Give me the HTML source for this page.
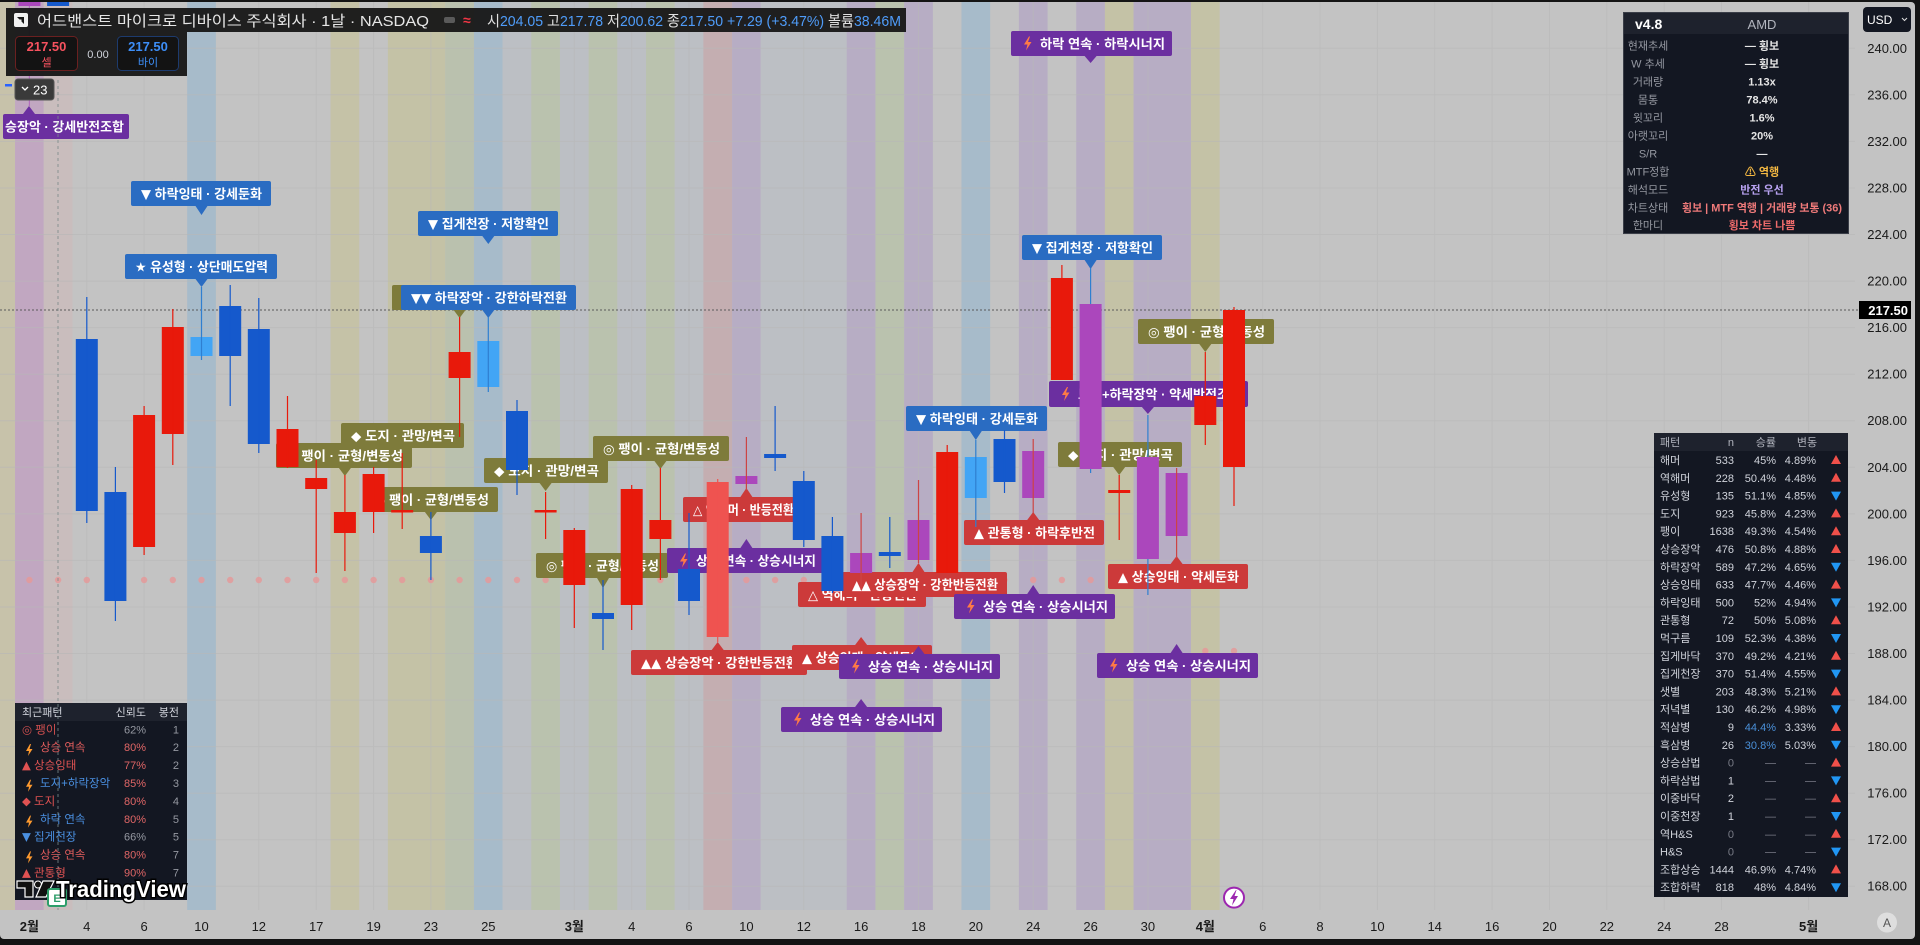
<!DOCTYPE html>
<html><head><meta charset="utf-8"><style>
html,body{margin:0;padding:0;background:#141414;overflow:hidden}
svg{display:block}
.g{font-family:'DejaVu Sans',sans-serif}
</style></head><body>
<svg width="1920" height="945" viewBox="0 0 1920 945" xmlns="http://www.w3.org/2000/svg" style="font-family:'Liberation Sans','Noto Sans CJK KR','DejaVu Sans',sans-serif">
<defs><clipPath id="cl"><rect x="0" y="2" width="1915" height="937"/></clipPath></defs>
<rect x="0" y="0" width="1920" height="945" fill="#141414"/>
<rect x="0" y="2" width="1915" height="937" rx="4" fill="#c3c3c3"/>
<g clip-path="url(#cl)">
<g>
<rect x="0" y="2" width="15" height="908" fill="#c7c2aa"/>
<rect x="15.06" y="2" width="28.7" height="908" fill="#c1a7c1"/>
<rect x="43.76" y="2" width="28.7" height="908" fill="#c9bdbd"/>
<rect x="187.16" y="2" width="28.7" height="908" fill="#a7bbca"/>
<rect x="330.56" y="2" width="28.7" height="908" fill="#c5c2a7"/>
<rect x="387.86" y="2" width="57.4" height="908" fill="#c4c2a6"/>
<rect x="445.26" y="2" width="28.7" height="908" fill="#bac1ae"/>
<rect x="473.96" y="2" width="28.7" height="908" fill="#a7bbca"/>
<rect x="502.66" y="2" width="28.7" height="908" fill="#bcbfc4"/>
<rect x="531.26" y="2" width="28.7" height="908" fill="#bac2ae"/>
<rect x="559.96" y="2" width="28.7" height="908" fill="#bcbfc4"/>
<rect x="588.66" y="2" width="28.7" height="908" fill="#bac2ae"/>
<rect x="617.36" y="2" width="28.7" height="908" fill="#bcbfc4"/>
<rect x="646.06" y="2" width="28.7" height="908" fill="#bac2ae"/>
<rect x="674.66" y="2" width="28.7" height="908" fill="#bcbfc4"/>
<rect x="703.36" y="2" width="28.7" height="908" fill="#c4aeb1"/>
<rect x="732.06" y="2" width="28.7" height="908" fill="#b7adc4"/>
<rect x="760.76" y="2" width="86.1" height="908" fill="#bcbfc4"/>
<rect x="846.76" y="2" width="28.7" height="908" fill="#b7adc4"/>
<rect x="875.46" y="2" width="28.7" height="908" fill="#bac2ae"/>
<rect x="904.16" y="2" width="28.7" height="908" fill="#b7adc4"/>
<rect x="961.46" y="2" width="28.7" height="908" fill="#a7bbca"/>
<rect x="1018.86" y="2" width="28.7" height="908" fill="#b7adc4"/>
<rect x="1076.26" y="2" width="28.7" height="908" fill="#b7adc4"/>
<rect x="1104.86" y="2" width="28.7" height="908" fill="#c4c2a6"/>
<rect x="1133.56" y="2" width="57.4" height="908" fill="#b7adc4"/>
<rect x="1190.96" y="2" width="28.7" height="908" fill="#c4c2a6"/>
</g>
<g stroke="#b8b8b8" stroke-width="1" opacity="0.6">
<line x1="0" x2="1855" y1="48.3" y2="48.3"/><line x1="0" x2="1855" y1="94.8" y2="94.8"/><line x1="0" x2="1855" y1="141.4" y2="141.4"/><line x1="0" x2="1855" y1="188" y2="188"/><line x1="0" x2="1855" y1="234.5" y2="234.5"/><line x1="0" x2="1855" y1="281.1" y2="281.1"/><line x1="0" x2="1855" y1="327.6" y2="327.6"/><line x1="0" x2="1855" y1="374.2" y2="374.2"/><line x1="0" x2="1855" y1="420.7" y2="420.7"/><line x1="0" x2="1855" y1="467.3" y2="467.3"/><line x1="0" x2="1855" y1="513.9" y2="513.9"/><line x1="0" x2="1855" y1="560.4" y2="560.4"/><line x1="0" x2="1855" y1="607" y2="607"/><line x1="0" x2="1855" y1="653.5" y2="653.5"/><line x1="0" x2="1855" y1="700.1" y2="700.1"/><line x1="0" x2="1855" y1="746.6" y2="746.6"/><line x1="0" x2="1855" y1="793.2" y2="793.2"/><line x1="0" x2="1855" y1="839.7" y2="839.7"/><line x1="0" x2="1855" y1="886.3" y2="886.3"/>
<line x1="258.8" x2="258.8" y1="2" y2="910"/><line x1="316.2" x2="316.2" y1="2" y2="910"/><line x1="373.6" x2="373.6" y1="2" y2="910"/><line x1="430.9" x2="430.9" y1="2" y2="910"/><line x1="86.8" x2="86.8" y1="2" y2="910"/><line x1="144.1" x2="144.1" y1="2" y2="910"/><line x1="574.3" x2="574.3" y1="2" y2="910"/><line x1="631.7" x2="631.7" y1="2" y2="910"/><line x1="689" x2="689" y1="2" y2="910"/><line x1="803.8" x2="803.8" y1="2" y2="910"/><line x1="918.5" x2="918.5" y1="2" y2="910"/><line x1="1033.2" x2="1033.2" y1="2" y2="910"/><line x1="1147.9" x2="1147.9" y1="2" y2="910"/><line x1="1262.7" x2="1262.7" y1="2" y2="910"/><line x1="1320" x2="1320" y1="2" y2="910"/><line x1="1377.4" x2="1377.4" y1="2" y2="910"/><line x1="1434.7" x2="1434.7" y1="2" y2="910"/><line x1="1492.1" x2="1492.1" y1="2" y2="910"/><line x1="1549.5" x2="1549.5" y1="2" y2="910"/><line x1="1606.8" x2="1606.8" y1="2" y2="910"/><line x1="1664.2" x2="1664.2" y1="2" y2="910"/><line x1="1721.5" x2="1721.5" y1="2" y2="910"/><line x1="1808.6" x2="1808.6" y1="2" y2="910"/>
</g>
<line x1="0" x2="1858" y1="310" y2="310" stroke="#5a5a5a" stroke-width="1" stroke-dasharray="2,2"/>
<g fill="#e59a9a" opacity="0.85">
<circle cx="29.4" cy="580" r="3.2"/><circle cx="58.1" cy="580" r="3.2"/><circle cx="86.8" cy="580" r="3.2"/><circle cx="115.4" cy="580" r="3.2"/><circle cx="144.1" cy="580" r="3.2"/><circle cx="172.8" cy="580" r="3.2"/><circle cx="201.5" cy="580" r="3.2"/><circle cx="230.2" cy="580" r="3.2"/><circle cx="258.8" cy="580" r="3.2"/><circle cx="287.5" cy="580" r="3.2"/><circle cx="316.2" cy="580" r="3.2"/><circle cx="344.9" cy="580" r="3.2"/><circle cx="373.6" cy="580" r="3.2"/><circle cx="402.2" cy="580" r="3.2"/><circle cx="430.9" cy="580" r="3.2"/><circle cx="459.6" cy="580" r="3.2"/><circle cx="488.3" cy="580" r="3.2"/><circle cx="517" cy="580" r="3.2"/><circle cx="545.6" cy="580" r="3.2"/><circle cx="574.3" cy="580" r="3.2"/><circle cx="603" cy="580" r="3.2"/><circle cx="631.7" cy="580" r="3.2"/><circle cx="660.4" cy="580" r="3.2"/><circle cx="689" cy="580" r="3.2"/><circle cx="717.7" cy="580" r="3.2"/><circle cx="746.4" cy="580" r="3.2"/><circle cx="775.1" cy="580" r="3.2"/><circle cx="803.8" cy="580" r="3.2"/><circle cx="832.4" cy="580" r="3.2"/><circle cx="861.1" cy="580" r="3.2"/><circle cx="889.8" cy="580" r="3.2"/><circle cx="918.5" cy="580" r="3.2"/><circle cx="947.2" cy="580" r="3.2"/><circle cx="975.8" cy="580" r="3.2"/><circle cx="1004.5" cy="580" r="3.2"/><circle cx="1033.2" cy="580" r="3.2"/><circle cx="1061.9" cy="580" r="3.2"/><circle cx="1090.6" cy="580" r="3.2"/><circle cx="1205.3" cy="651" r="3.2"/><circle cx="1234" cy="651" r="3.2"/>
</g>

<g font-size="13" font-weight="bold" fill="#ffffff">
<rect x="3" y="114" width="126" height="25" rx="2" fill="#6b2fa0"/><path d="M23,114 L35,114 L29,106 Z" fill="#6b2fa0"/>
<text x="5" y="131.5" textLength="119" lengthAdjust="spacingAndGlyphs">승장악 · 강세반전조합</text>
<rect x="1011" y="31" width="161" height="25" rx="2" fill="#6b2fa0"/><path d="M1084.6,56 L1096.6,56 L1090.6,63 Z" fill="#6b2fa0"/>
<polygon points="1029,36.5 1024,44.5 1027.5,44.5 1026,50.5 1031.5,42 1028,42 1030,36.5" fill="#ff7a45"/>
<text x="1040" y="48.5" textLength="125" lengthAdjust="spacingAndGlyphs">하락 연속 · 하락시너지</text>
<rect x="131" y="181" width="140" height="25" rx="2" fill="#2a6cc2"/><path d="M195.5,206 L207.5,206 L201.5,215 Z" fill="#2a6cc2"/>
<text x="141" y="198.5" textLength="121" lengthAdjust="spacingAndGlyphs"><tspan class="g">▼</tspan> 하락잉태 · 강세둔화</text>
<rect x="418" y="211" width="140" height="25" rx="2" fill="#2a6cc2"/><path d="M482.3,236 L494.3,236 L488.3,244 Z" fill="#2a6cc2"/>
<text x="428" y="228.5" textLength="121" lengthAdjust="spacingAndGlyphs"><tspan class="g">▼</tspan> 집게천장 · 저항확인</text>
<rect x="125" y="254" width="152" height="25" rx="2" fill="#2a6cc2"/><path d="M195.5,279 L207.5,279 L201.5,287 Z" fill="#2a6cc2"/>
<text x="135" y="271.5" textLength="133" lengthAdjust="spacingAndGlyphs"><tspan class="g">★</tspan> 유성형 · 상단매도압력</text>
<rect x="392" y="285" width="172" height="25" rx="2" fill="#7e7b3b"/><path d="M453.6,310 L465.6,310 L459.6,318 Z" fill="#7e7b3b"/>
<text x="402" y="302.5" textLength="100" lengthAdjust="spacingAndGlyphs"><tspan class="g">◆</tspan> 도지 · 관망/변곡</text>
<rect x="401" y="285" width="175" height="25" rx="2" fill="#2a6cc2"/><path d="M482.3,310 L494.3,310 L488.3,318 Z" fill="#2a6cc2"/>
<text x="411" y="302.5" textLength="156" lengthAdjust="spacingAndGlyphs"><tspan class="g">▼▼</tspan> 하락장악 · 강한하락전환</text>
<rect x="341" y="423" width="123" height="25" rx="2" fill="#7e7b3b"/><path d="M396.2,448 L408.2,448 L402.2,456 Z" fill="#7e7b3b"/>
<text x="351" y="440.5" textLength="104" lengthAdjust="spacingAndGlyphs"><tspan class="g">◆</tspan> 도지 · 관망/변곡</text>
<rect x="276" y="443" width="136" height="25" rx="2" fill="#7e7b3b"/><path d="M338.9,468 L350.9,468 L344.9,476 Z" fill="#7e7b3b"/>
<text x="286" y="460.5" textLength="117" lengthAdjust="spacingAndGlyphs"><tspan class="g">◎</tspan> 팽이 · 균형/변동성</text>
<rect x="364" y="487" width="134" height="25" rx="2" fill="#7e7b3b"/><path d="M424.9,512 L436.9,512 L430.9,520 Z" fill="#7e7b3b"/>
<text x="374" y="504.5" textLength="115" lengthAdjust="spacingAndGlyphs"><tspan class="g">◎</tspan> 팽이 · 균형/변동성</text>
<rect x="484" y="458" width="124" height="25" rx="2" fill="#7e7b3b"/><path d="M539.6,483 L551.6,483 L545.6,491 Z" fill="#7e7b3b"/>
<text x="494" y="475.5" textLength="105" lengthAdjust="spacingAndGlyphs"><tspan class="g">◆</tspan> 도지 · 관망/변곡</text>
<rect x="536" y="553" width="132" height="25" rx="2" fill="#7e7b3b"/><path d="M597,578 L609,578 L603,588 Z" fill="#7e7b3b"/>
<text x="546" y="570.5" textLength="113" lengthAdjust="spacingAndGlyphs"><tspan class="g">◎</tspan> 팽이 · 균형/변동성</text>
<rect x="593" y="436" width="136" height="25" rx="2" fill="#7e7b3b"/><path d="M654.4,461 L666.4,461 L660.4,469 Z" fill="#7e7b3b"/>
<text x="603" y="453.5" textLength="117" lengthAdjust="spacingAndGlyphs"><tspan class="g">◎</tspan> 팽이 · 균형/변동성</text>
<rect x="683" y="497" width="120" height="25" rx="2" fill="#cc3a3a"/><path d="M740.4,497 L752.4,497 L746.4,488 Z" fill="#cc3a3a"/>
<text x="693" y="514.5" textLength="101" lengthAdjust="spacingAndGlyphs"><tspan class="g">△</tspan> 역해머 · 반등전환</text>
<rect x="667" y="548" width="156" height="25" rx="2" fill="#6b2fa0"/><path d="M740.4,548 L752.4,548 L746.4,539 Z" fill="#6b2fa0"/>
<polygon points="685,553.5 680,561.5 683.5,561.5 682,567.5 687.5,559 684,559 686,553.5" fill="#ff7a45"/>
<text x="696" y="565.5" textLength="120" lengthAdjust="spacingAndGlyphs">상승 연속 · 상승시너지</text>
<rect x="798" y="582" width="128" height="25" rx="2" fill="#cc3a3a"/><path d="M826.4,582 L838.4,582 L832.4,573 Z" fill="#cc3a3a"/>
<text x="808" y="599.5" textLength="109" lengthAdjust="spacingAndGlyphs"><tspan class="g">△</tspan> 역해머 · 반등전환</text>
<rect x="842" y="572" width="165" height="25" rx="2" fill="#cc3a3a"/><path d="M912.5,572 L924.5,572 L918.5,563 Z" fill="#cc3a3a"/>
<text x="852" y="589.5" textLength="146" lengthAdjust="spacingAndGlyphs"><tspan class="g">▲▲</tspan> 상승장악 · 강한반등전환</text>
<rect x="631" y="650" width="176" height="25" rx="2" fill="#cc3a3a"/><path d="M711.7,650 L723.7,650 L717.7,642 Z" fill="#cc3a3a"/>
<text x="641" y="667.5" textLength="157" lengthAdjust="spacingAndGlyphs"><tspan class="g">▲▲</tspan> 상승장악 · 강한반등전환</text>
<rect x="792" y="645" width="140" height="25" rx="2" fill="#cc3a3a"/><path d="M855.1,645 L867.1,645 L861.1,637 Z" fill="#cc3a3a"/>
<text x="802" y="662.5" textLength="121" lengthAdjust="spacingAndGlyphs"><tspan class="g">▲</tspan> 상승잉태 · 약세둔화</text>
<rect x="839" y="654" width="161" height="25" rx="2" fill="#6b2fa0"/><path d="M912.5,654 L924.5,654 L918.5,646 Z" fill="#6b2fa0"/>
<polygon points="857,659.5 852,667.5 855.5,667.5 854,673.5 859.5,665 856,665 858,659.5" fill="#ff7a45"/>
<text x="868" y="671.5" textLength="125" lengthAdjust="spacingAndGlyphs">상승 연속 · 상승시너지</text>
<rect x="781" y="707" width="161" height="25" rx="2" fill="#6b2fa0"/><path d="M855.1,707 L867.1,707 L861.1,699 Z" fill="#6b2fa0"/>
<polygon points="799,712.5 794,720.5 797.5,720.5 796,726.5 801.5,718 798,718 800,712.5" fill="#ff7a45"/>
<text x="810" y="724.5" textLength="125" lengthAdjust="spacingAndGlyphs">상승 연속 · 상승시너지</text>
<rect x="906" y="406" width="141" height="25" rx="2" fill="#2a6cc2"/><path d="M969.8,431 L981.8,431 L975.8,440 Z" fill="#2a6cc2"/>
<text x="916" y="423.5" textLength="122" lengthAdjust="spacingAndGlyphs"><tspan class="g">▼</tspan> 하락잉태 · 강세둔화</text>
<rect x="964" y="520" width="140" height="25" rx="2" fill="#cc3a3a"/><path d="M1027.2,520 L1039.2,520 L1033.2,512 Z" fill="#cc3a3a"/>
<text x="974" y="537.5" textLength="121" lengthAdjust="spacingAndGlyphs"><tspan class="g">▲</tspan> 관통형 · 하락후반전</text>
<rect x="954" y="594" width="161" height="25" rx="2" fill="#6b2fa0"/><path d="M1027.2,594 L1039.2,594 L1033.2,585 Z" fill="#6b2fa0"/>
<polygon points="972,599.5 967,607.5 970.5,607.5 969,613.5 974.5,605 971,605 973,599.5" fill="#ff7a45"/>
<text x="983" y="611.5" textLength="125" lengthAdjust="spacingAndGlyphs">상승 연속 · 상승시너지</text>
<rect x="1022" y="235" width="140" height="25" rx="2" fill="#2a6cc2"/><path d="M1084.6,260 L1096.6,260 L1090.6,269 Z" fill="#2a6cc2"/>
<text x="1032" y="252.5" textLength="121" lengthAdjust="spacingAndGlyphs"><tspan class="g">▼</tspan> 집게천장 · 저항확인</text>
<rect x="1049" y="381" width="199" height="26" rx="2" fill="#6b2fa0"/><path d="M1141.9,407 L1153.9,407 L1147.9,414 Z" fill="#6b2fa0"/>
<polygon points="1067,387 1062,395 1065.5,395 1064,401 1069.5,392.5 1066,392.5 1068,387" fill="#ff7a45"/>
<text x="1078" y="399" textLength="163" lengthAdjust="spacingAndGlyphs">도지+하락장악 · 약세반전조합</text>
<rect x="1138" y="319" width="136" height="25" rx="2" fill="#7e7b3b"/><path d="M1199.3,344 L1211.3,344 L1205.3,352 Z" fill="#7e7b3b"/>
<text x="1148" y="336.5" textLength="117" lengthAdjust="spacingAndGlyphs"><tspan class="g">◎</tspan> 팽이 · 균형/변동성</text>
<rect x="1058" y="442" width="124" height="25" rx="2" fill="#7e7b3b"/><path d="M1113.2,467 L1125.2,467 L1119.2,475 Z" fill="#7e7b3b"/>
<text x="1068" y="459.5" textLength="105" lengthAdjust="spacingAndGlyphs"><tspan class="g">◆</tspan> 도지 · 관망/변곡</text>
<rect x="1108" y="564" width="140" height="25" rx="2" fill="#cc3a3a"/><path d="M1170.6,564 L1182.6,564 L1176.6,556 Z" fill="#cc3a3a"/>
<text x="1118" y="581.5" textLength="121" lengthAdjust="spacingAndGlyphs"><tspan class="g">▲</tspan> 상승잉태 · 약세둔화</text>
<rect x="1097" y="653" width="161" height="25" rx="2" fill="#6b2fa0"/><path d="M1170.6,653 L1182.6,653 L1176.6,644 Z" fill="#6b2fa0"/>
<polygon points="1115,658.5 1110,666.5 1113.5,666.5 1112,672.5 1117.5,664 1114,664 1116,658.5" fill="#ff7a45"/>
<text x="1126" y="670.5" textLength="125" lengthAdjust="spacingAndGlyphs">상승 연속 · 상승시너지</text>
</g>

<g>
<rect x="18.4" y="0" width="22" height="6" fill="#ab47bc"/>
<rect x="47.1" y="0" width="22" height="6" fill="#1559cc"/>
<rect x="28.8" y="6" width="1.2" height="100" fill="#ab47bc" opacity="0.6"/>
<rect x="75.8" y="339" width="22" height="172" fill="#1559cc"/><rect x="86.2" y="297" width="1.2" height="226" fill="#1559cc"/>
<rect x="104.4" y="492" width="22" height="109" fill="#1559cc"/><rect x="114.8" y="467" width="1.2" height="154" fill="#1559cc"/>
<rect x="133.1" y="415" width="22" height="132" fill="#e8190b"/><rect x="143.5" y="406" width="1.2" height="149" fill="#e8190b"/>
<rect x="161.8" y="327" width="22" height="107" fill="#e8190b"/><rect x="172.2" y="309" width="1.2" height="156" fill="#e8190b"/>
<rect x="190.5" y="337" width="22" height="19" fill="#42a5f5"/><rect x="200.9" y="287" width="1.2" height="73" fill="#2f7fd0"/>
<rect x="219.2" y="306" width="22" height="50" fill="#1559cc"/><rect x="229.6" y="285" width="1.2" height="121" fill="#1559cc"/>
<rect x="247.8" y="329" width="22" height="115" fill="#1559cc"/><rect x="258.2" y="298" width="1.2" height="155" fill="#1559cc"/>
<rect x="276.5" y="429" width="22" height="38" fill="#e8190b"/><rect x="286.9" y="396" width="1.2" height="72" fill="#e8190b"/>
<rect x="305.2" y="478" width="22" height="11" fill="#e8190b"/><rect x="315.6" y="460" width="1.2" height="113" fill="#e8190b"/>
<rect x="333.9" y="512" width="22" height="21" fill="#e8190b"/><rect x="344.3" y="475" width="1.2" height="96" fill="#e8190b"/>
<rect x="362.6" y="474" width="22" height="38" fill="#e8190b"/><rect x="373" y="467" width="1.2" height="66" fill="#e8190b"/>
<rect x="391.2" y="510" width="22" height="2.5" fill="#e8190b"/><rect x="401.6" y="453" width="1.2" height="76" fill="#e8190b"/>
<rect x="419.9" y="536" width="22" height="17" fill="#1559cc"/><rect x="430.3" y="512" width="1.2" height="68" fill="#1559cc"/>
<rect x="448.6" y="352" width="22" height="26" fill="#e8190b"/><rect x="459" y="317" width="1.2" height="120" fill="#e8190b"/>
<rect x="477.3" y="341" width="22" height="46" fill="#42a5f5"/><rect x="487.7" y="317" width="1.2" height="75" fill="#2f7fd0"/>
<rect x="506" y="411" width="22" height="59" fill="#1559cc"/><rect x="516.4" y="400" width="1.2" height="95" fill="#1559cc"/>
<rect x="534.6" y="510" width="22" height="2.5" fill="#e8190b"/><rect x="545" y="492" width="1.2" height="47" fill="#e8190b"/>
<rect x="563.3" y="530" width="22" height="55" fill="#e8190b"/><rect x="573.7" y="528" width="1.2" height="100" fill="#e8190b"/>
<rect x="592" y="613" width="22" height="6" fill="#1559cc"/><rect x="602.4" y="580" width="1.2" height="70" fill="#1559cc"/>
<rect x="620.7" y="489" width="22" height="116" fill="#e8190b"/><rect x="631.1" y="485" width="1.2" height="145" fill="#e8190b"/>
<rect x="649.4" y="520" width="22" height="19" fill="#e8190b"/><rect x="659.8" y="468" width="1.2" height="112" fill="#e8190b"/>
<rect x="678" y="569" width="22" height="32" fill="#1559cc"/><rect x="688.4" y="513" width="1.2" height="102" fill="#1559cc"/>
<rect x="706.7" y="482" width="22" height="155" fill="#ef5350"/><rect x="717.1" y="479" width="1.2" height="163" fill="#ef5350"/>
<rect x="735.4" y="476" width="22" height="8" fill="#ab47bc"/><rect x="745.8" y="437" width="1.2" height="53" fill="#cc4444"/>
<rect x="764.1" y="454" width="22" height="4" fill="#1559cc"/><rect x="774.5" y="406" width="1.2" height="65" fill="#1559cc"/>
<rect x="792.8" y="481" width="22" height="59" fill="#1559cc"/><rect x="803.2" y="471" width="1.2" height="76" fill="#1559cc"/>
<rect x="821.4" y="536" width="22" height="55" fill="#1559cc"/><rect x="831.8" y="517" width="1.2" height="76" fill="#1559cc"/>
<rect x="850.1" y="553" width="22" height="20" fill="#ab47bc"/><rect x="860.5" y="513" width="1.2" height="77" fill="#cc4444"/>
<rect x="878.8" y="552" width="22" height="4" fill="#1559cc"/><rect x="889.2" y="517" width="1.2" height="51" fill="#1559cc"/>
<rect x="907.5" y="520" width="22" height="40" fill="#ab47bc"/><rect x="917.9" y="480" width="1.2" height="83" fill="#cc4444"/>
<rect x="936.2" y="452" width="22" height="121" fill="#e8190b"/><rect x="946.6" y="445" width="1.2" height="128" fill="#e8190b"/>
<rect x="964.8" y="457" width="22" height="41" fill="#42a5f5"/><rect x="975.2" y="440" width="1.2" height="87" fill="#2f7fd0"/>
<rect x="993.5" y="439" width="22" height="43" fill="#1559cc"/><rect x="1003.9" y="430" width="1.2" height="63" fill="#1559cc"/>
<rect x="1022.2" y="451" width="22" height="47" fill="#ab47bc"/><rect x="1032.6" y="439" width="1.2" height="74" fill="#cc4444"/>
<rect x="1050.9" y="278" width="22" height="102" fill="#e8190b"/><rect x="1061.3" y="265" width="1.2" height="115" fill="#e8190b"/>
<rect x="1079.6" y="304" width="22" height="165" fill="#ab47bc"/><rect x="1090" y="268" width="1.2" height="36" fill="#2f7fd0"/><rect x="1090" y="469" width="1.2" height="4" fill="#2f7fd0"/>
<rect x="1108.2" y="490" width="22" height="3" fill="#e8190b"/><rect x="1118.6" y="475" width="1.2" height="65" fill="#e8190b"/>
<rect x="1136.9" y="457" width="22" height="102" fill="#ab47bc"/><rect x="1147.3" y="415" width="1.2" height="42" fill="#2f7fd0"/><rect x="1147.3" y="559" width="1.2" height="36" fill="#2f7fd0"/>
<rect x="1165.6" y="473" width="22" height="63" fill="#ab47bc"/><rect x="1176" y="468" width="1.2" height="90" fill="#cc4444"/>
<rect x="1194.3" y="396" width="22" height="29" fill="#e8190b"/><rect x="1204.7" y="352" width="1.2" height="93" fill="#e8190b"/>
<rect x="1223" y="310" width="22" height="157" fill="#e8190b"/><rect x="1233.4" y="307" width="1.2" height="199" fill="#e8190b"/>
</g>
</g>

<rect x="6" y="8" width="900" height="24" fill="#161616" opacity="0.95"/>
<rect x="6" y="32" width="181" height="44" fill="#161616" opacity="0.95"/>
<rect x="14" y="13" width="14" height="14" rx="2" fill="#f0f0f0"/>
<polygon points="17,17 24,17 24,24 21.5,21.5 21.5,19.5 19.5,19.5" fill="#161616"/>
<text x="37" y="26" font-size="15" fill="#e6e6e6" textLength="392" lengthAdjust="spacingAndGlyphs">어드밴스트 마이크로 디바이스 주식회사 · 1날 · NASDAQ</text>
<rect x="444" y="17" width="11" height="6" rx="2" fill="#5a5a5a"/>
<text x="463" y="25" font-size="14" font-weight="bold" fill="#f23645">≈</text>
<text x="487" y="26" font-size="15" textLength="414" lengthAdjust="spacingAndGlyphs"><tspan fill="#e0e0e0">시</tspan><tspan fill="#4f9cf9">204.05</tspan><tspan fill="#e0e0e0"> 고</tspan><tspan fill="#4f9cf9">217.78</tspan><tspan fill="#e0e0e0"> 저</tspan><tspan fill="#4f9cf9">200.62</tspan><tspan fill="#e0e0e0"> 종</tspan><tspan fill="#4f9cf9">217.50 +7.29 (+3.47%)</tspan><tspan fill="#e0e0e0"> 볼륨</tspan><tspan fill="#4f9cf9">38.46M</tspan></text>
<rect x="15.5" y="36.5" width="62" height="34" rx="4" fill="#131313" stroke="#6b2020"/>
<text x="46.5" y="51" font-size="13" font-weight="bold" fill="#f7525f" text-anchor="middle">217.50</text>
<text x="46.5" y="66" font-size="11" fill="#f7525f" text-anchor="middle">셀</text>
<text x="98" y="58" font-size="11" fill="#d1d4dc" text-anchor="middle">0.00</text>
<rect x="117.5" y="36.5" width="61" height="34" rx="4" fill="#131313" stroke="#1d3b6e"/>
<text x="148" y="51" font-size="13" font-weight="bold" fill="#3d8ef7" text-anchor="middle">217.50</text>
<text x="148" y="66" font-size="11" fill="#3d8ef7" text-anchor="middle">바이</text>
<rect x="5" y="84" width="7" height="2.5" fill="#2962ff"/>
<rect x="15" y="79" width="39" height="21" rx="3" fill="#3a3a3a" stroke="#555"/>
<path d="M22,87 L25,90 L28,87" stroke="#fff" stroke-width="1.3" fill="none"/>
<text x="33" y="94.5" font-size="13" fill="#ffffff">23</text>

<rect x="1623.5" y="12.5" width="225" height="221" fill="#131722" stroke="#3a3e48"/>
<rect x="1624" y="13" width="224" height="21" fill="#1e222d"/>
<text x="1635" y="29" font-size="14" font-weight="bold" fill="#ffffff">v4.8</text>
<text x="1762" y="29" font-size="13" fill="#b2b5be" text-anchor="middle">AMD</text>
<g font-size="11" fill="#9598a1" text-anchor="middle">
<text x="1648" y="49.5">현재추세</text><text x="1648" y="67.5">W 추세</text><text x="1648" y="85.5">거래량</text><text x="1648" y="103.5">몸통</text><text x="1648" y="121.5">윗꼬리</text><text x="1648" y="139.5">아랫꼬리</text><text x="1648" y="157.5">S/R</text><text x="1648" y="175.5">MTF정합</text><text x="1648" y="193.5">해석모드</text><text x="1648" y="211.5">차트상태</text><text x="1648" y="229">한마디</text>
</g>
<g font-size="11" font-weight="bold" text-anchor="middle" fill="#e6e6e6">
<text x="1762" y="49.5">— 횡보</text><text x="1762" y="67.5">— 횡보</text><text x="1762" y="85.5">1.13x</text><text x="1762" y="103.5">78.4%</text><text x="1762" y="121.5">1.6%</text><text x="1762" y="139.5">20%</text><text x="1762" y="157.5">—</text>
<text x="1762" y="175.5" fill="#f5b942">⚠ 역행</text>
<text x="1762" y="193.5" fill="#b9a3f2">반전 우선</text>
<text x="1762" y="211.5" fill="#ef7a7a" textLength="160" lengthAdjust="spacingAndGlyphs">횡보 | MTF 역행 | 거래량 보통 (36)</text>
<text x="1762" y="229" fill="#ef6b6b">횡보 차트 나쁨</text>
</g>
<rect x="1863" y="7" width="48" height="25" rx="4" fill="#131722"/>
<text x="1867" y="24" font-size="12" fill="#ffffff">USD</text>
<path d="M1902,18 L1904.5,20.5 L1907,18" stroke="#ddd" stroke-width="1" fill="none"/>

<g font-size="13" fill="#1a1a1a" text-anchor="end">
<text x="1907" y="53">240.00</text><text x="1907" y="99.5">236.00</text><text x="1907" y="146">232.00</text><text x="1907" y="192.5">228.00</text><text x="1907" y="239">224.00</text><text x="1907" y="285.5">220.00</text><text x="1907" y="332">216.00</text><text x="1907" y="378.5">212.00</text><text x="1907" y="425">208.00</text><text x="1907" y="472">204.00</text><text x="1907" y="518.5">200.00</text><text x="1907" y="565">196.00</text><text x="1907" y="611.5">192.00</text><text x="1907" y="658">188.00</text><text x="1907" y="704.5">184.00</text><text x="1907" y="751">180.00</text><text x="1907" y="797.5">176.00</text><text x="1907" y="844">172.00</text><text x="1907" y="890.5">168.00</text>
</g>
<rect x="1859" y="301" width="52" height="18" fill="#000000"/>
<text x="1908" y="315" font-size="13" font-weight="bold" fill="#ffffff" text-anchor="end">217.50</text>

<rect x="1654" y="433" width="194" height="464" fill="#131722"/>
<rect x="1654" y="433" width="194" height="18" fill="#1e222d"/>
<g font-size="11" fill="#b2b5be">
<text x="1660" y="446">패턴</text><text x="1734" y="446" text-anchor="end">n</text><text x="1776" y="446" text-anchor="end">승률</text><text x="1807" y="446" text-anchor="middle">변동</text>
</g>
<g font-size="11" fill="#d1d4dc">
<text x="1660" y="464">해머</text><text x="1660" y="481.8">역해머</text><text x="1660" y="499.6">유성형</text><text x="1660" y="517.4">도지</text><text x="1660" y="535.2">팽이</text><text x="1660" y="553">상승장악</text><text x="1660" y="570.8">하락장악</text><text x="1660" y="588.6">상승잉태</text><text x="1660" y="606.4">하락잉태</text><text x="1660" y="624.2">관통형</text><text x="1660" y="642">먹구름</text><text x="1660" y="659.8">집게바닥</text><text x="1660" y="677.6">집게천장</text><text x="1660" y="695.4">샛별</text><text x="1660" y="713.2">저녁별</text><text x="1660" y="731">적삼병</text><text x="1660" y="748.8">흑삼병</text><text x="1660" y="766.6">상승삼법</text><text x="1660" y="784.4">하락삼법</text><text x="1660" y="802.2">이중바닥</text><text x="1660" y="820">이중천장</text><text x="1660" y="837.8">역H&amp;S</text><text x="1660" y="855.6">H&amp;S</text><text x="1660" y="873.4">조합상승</text><text x="1660" y="891.2">조합하락</text>
</g>
<g font-size="11" fill="#d1d4dc" text-anchor="end">
<text x="1734" y="464">533</text><text x="1734" y="481.8">228</text><text x="1734" y="499.6">135</text><text x="1734" y="517.4">923</text><text x="1734" y="535.2">1638</text><text x="1734" y="553">476</text><text x="1734" y="570.8">589</text><text x="1734" y="588.6">633</text><text x="1734" y="606.4">500</text><text x="1734" y="624.2">72</text><text x="1734" y="642">109</text><text x="1734" y="659.8">370</text><text x="1734" y="677.6">370</text><text x="1734" y="695.4">203</text><text x="1734" y="713.2">130</text><text x="1734" y="731">9</text><text x="1734" y="748.8">26</text><text x="1734" y="766.6" fill="#787b86">0</text><text x="1734" y="784.4">1</text><text x="1734" y="802.2">2</text><text x="1734" y="820">1</text><text x="1734" y="837.8" fill="#787b86">0</text><text x="1734" y="855.6" fill="#787b86">0</text><text x="1734" y="873.4">1444</text><text x="1734" y="891.2">818</text>
<text x="1776" y="464">45%</text><text x="1776" y="481.8">50.4%</text><text x="1776" y="499.6">51.1%</text><text x="1776" y="517.4">45.8%</text><text x="1776" y="535.2">49.3%</text><text x="1776" y="553">50.8%</text><text x="1776" y="570.8">47.2%</text><text x="1776" y="588.6">47.7%</text><text x="1776" y="606.4">52%</text><text x="1776" y="624.2">50%</text><text x="1776" y="642">52.3%</text><text x="1776" y="659.8">49.2%</text><text x="1776" y="677.6">51.4%</text><text x="1776" y="695.4">48.3%</text><text x="1776" y="713.2">46.2%</text><text x="1776" y="731" fill="#4a90d9">44.4%</text><text x="1776" y="748.8" fill="#4a90d9">30.8%</text><text x="1776" y="766.6" fill="#787b86">—</text><text x="1776" y="784.4" fill="#787b86">—</text><text x="1776" y="802.2" fill="#787b86">—</text><text x="1776" y="820" fill="#787b86">—</text><text x="1776" y="837.8" fill="#787b86">—</text><text x="1776" y="855.6" fill="#787b86">—</text><text x="1776" y="873.4">46.9%</text><text x="1776" y="891.2">48%</text>
<text x="1816" y="464">4.89%</text><text x="1816" y="481.8">4.48%</text><text x="1816" y="499.6">4.85%</text><text x="1816" y="517.4">4.23%</text><text x="1816" y="535.2">4.54%</text><text x="1816" y="553">4.88%</text><text x="1816" y="570.8">4.65%</text><text x="1816" y="588.6">4.46%</text><text x="1816" y="606.4">4.94%</text><text x="1816" y="624.2">5.08%</text><text x="1816" y="642">4.38%</text><text x="1816" y="659.8">4.21%</text><text x="1816" y="677.6">4.55%</text><text x="1816" y="695.4">5.21%</text><text x="1816" y="713.2">4.98%</text><text x="1816" y="731">3.33%</text><text x="1816" y="748.8">5.03%</text><text x="1816" y="766.6" fill="#787b86">—</text><text x="1816" y="784.4" fill="#787b86">—</text><text x="1816" y="802.2" fill="#787b86">—</text><text x="1816" y="820" fill="#787b86">—</text><text x="1816" y="837.8" fill="#787b86">—</text><text x="1816" y="855.6" fill="#787b86">—</text><text x="1816" y="873.4">4.74%</text><text x="1816" y="891.2">4.84%</text>
</g>
<g>
<polygon points="1831,464 1841,464 1836,455" fill="#f0504a"/>
<polygon points="1831,481.8 1841,481.8 1836,472.8" fill="#f0504a"/>
<polygon points="1831,491.6 1841,491.6 1836,500.6" fill="#2196f3"/>
<polygon points="1831,517.4 1841,517.4 1836,508.4" fill="#f0504a"/>
<polygon points="1831,535.2 1841,535.2 1836,526.2" fill="#f0504a"/>
<polygon points="1831,553 1841,553 1836,544" fill="#f0504a"/>
<polygon points="1831,562.8 1841,562.8 1836,571.8" fill="#2196f3"/>
<polygon points="1831,588.6 1841,588.6 1836,579.6" fill="#f0504a"/>
<polygon points="1831,598.4 1841,598.4 1836,607.4" fill="#2196f3"/>
<polygon points="1831,624.2 1841,624.2 1836,615.2" fill="#f0504a"/>
<polygon points="1831,634 1841,634 1836,643" fill="#2196f3"/>
<polygon points="1831,659.8 1841,659.8 1836,650.8" fill="#f0504a"/>
<polygon points="1831,669.6 1841,669.6 1836,678.6" fill="#2196f3"/>
<polygon points="1831,695.4 1841,695.4 1836,686.4" fill="#f0504a"/>
<polygon points="1831,705.2 1841,705.2 1836,714.2" fill="#2196f3"/>
<polygon points="1831,731 1841,731 1836,722" fill="#f0504a"/>
<polygon points="1831,740.8 1841,740.8 1836,749.8" fill="#2196f3"/>
<polygon points="1831,766.6 1841,766.6 1836,757.6" fill="#f0504a"/>
<polygon points="1831,776.4 1841,776.4 1836,785.4" fill="#2196f3"/>
<polygon points="1831,802.2 1841,802.2 1836,793.2" fill="#f0504a"/>
<polygon points="1831,812 1841,812 1836,821" fill="#2196f3"/>
<polygon points="1831,837.8 1841,837.8 1836,828.8" fill="#f0504a"/>
<polygon points="1831,847.6 1841,847.6 1836,856.6" fill="#2196f3"/>
<polygon points="1831,873.4 1841,873.4 1836,864.4" fill="#f0504a"/>
<polygon points="1831,883.2 1841,883.2 1836,892.2" fill="#2196f3"/>
</g>

<rect x="15" y="703" width="172" height="197" fill="#131722"/>
<rect x="15" y="703" width="172" height="18" fill="#1e222d"/>
<g font-size="11" fill="#d1d4dc">
<text x="22" y="716">최근패턴</text><text x="146" y="716" text-anchor="end">신뢰도</text><text x="179" y="716" text-anchor="end">봉전</text>
</g>
<g font-size="11.5">
<text x="22" y="733.3" fill="#cf4f4f"><tspan class="g">◎</tspan> 팽이</text>
<polygon points="30,744 26,751 29,751 28,756 32.5,749 29.5,749 31,744" fill="#ff9a2e"/>
<text x="40" y="751.2" fill="#e05c5c">상승 연속</text>
<text x="22" y="769.1" fill="#e05252"><tspan class="g">▲</tspan> 상승잉태</text>
<polygon points="30,779.8 26,786.8 29,786.8 28,791.8 32.5,784.8 29.5,784.8 31,779.8" fill="#ff9a2e"/>
<text x="40" y="787" fill="#4a90e2">도지+하락장악</text>
<text x="22" y="804.9" fill="#e05252"><tspan class="g">◆</tspan> 도지</text>
<polygon points="30,815.6 26,822.6 29,822.6 28,827.6 32.5,820.6 29.5,820.6 31,815.6" fill="#ff9a2e"/>
<text x="40" y="822.8" fill="#4a90e2">하락 연속</text>
<text x="22" y="840.7" fill="#4a90e2"><tspan class="g">▼</tspan> 집게천장</text>
<polygon points="30,851.4 26,858.4 29,858.4 28,863.4 32.5,856.4 29.5,856.4 31,851.4" fill="#ff9a2e"/>
<text x="40" y="858.6" fill="#e05c5c">상승 연속</text>
<text x="22" y="876.5" fill="#e05252"><tspan class="g">▲</tspan> 관통형</text>
</g>
<g font-size="11" text-anchor="end">
<text x="146" y="733.3" fill="#9598a1">62%</text><text x="146" y="751.2" fill="#e06666">80%</text><text x="146" y="769.1" fill="#e06666">77%</text><text x="146" y="787" fill="#e06666">85%</text><text x="146" y="804.9" fill="#e06666">80%</text><text x="146" y="822.8" fill="#e06666">80%</text><text x="146" y="840.7" fill="#9598a1">66%</text><text x="146" y="858.6" fill="#e06666">80%</text><text x="146" y="876.5" fill="#e06666">90%</text>
</g>
<g font-size="11" text-anchor="end" fill="#9598a1">
<text x="179" y="733.3">1</text><text x="179" y="751.2">2</text><text x="179" y="769.1">2</text><text x="179" y="787">3</text><text x="179" y="804.9">4</text><text x="179" y="822.8">5</text><text x="179" y="840.7">5</text><text x="179" y="858.6">7</text><text x="179" y="876.5">7</text>
</g>
<line x1="58" x2="58" y1="80" y2="910" stroke="#7a8a8a" stroke-width="1" stroke-dasharray="3,3" opacity="0.8"/>

<g>
<path d="M17,881 L33,881 L33,897 L25,897 L25,888 L17,888 Z" fill="#111" stroke="#fff" stroke-width="1.2"/>
<circle cx="38" cy="884.5" r="3.5" fill="#111" stroke="#fff" stroke-width="1"/>
<path d="M43,881 L54,881 L46,897 L36,897 Z" fill="#111" stroke="#fff" stroke-width="1.2"/>
<rect x="48" y="889" width="18" height="17" rx="2" fill="#ffffff" stroke="#2e9e6a" stroke-width="2"/>
<text x="57" y="902" font-size="11" font-weight="bold" fill="#2e9e6a" text-anchor="middle">E</text>
<text x="56" y="897" font-size="23" font-weight="bold" fill="#ffffff" stroke="#000" stroke-width="3" paint-order="stroke" textLength="130" lengthAdjust="spacingAndGlyphs">TradingView</text>
</g>

<circle cx="1234" cy="897.6" r="10" fill="#ffffff" stroke="#9c27b0" stroke-width="2"/>
<polygon points="1236,890 1230,899 1233.5,899 1232,905.5 1238,896 1234.5,896 1236.5,890" fill="#9c27b0"/>

<g font-size="13" fill="#1a1a1a" text-anchor="middle">
<text x="29.4" y="931" font-weight="bold">2월</text><text x="86.8" y="931">4</text><text x="144.1" y="931">6</text><text x="201.5" y="931">10</text><text x="258.8" y="931">12</text><text x="316.2" y="931">17</text><text x="373.6" y="931">19</text><text x="430.9" y="931">23</text><text x="488.3" y="931">25</text><text x="574.3" y="931" font-weight="bold">3월</text><text x="631.7" y="931">4</text><text x="689" y="931">6</text><text x="746.4" y="931">10</text><text x="803.8" y="931">12</text><text x="861.1" y="931">16</text><text x="918.5" y="931">18</text><text x="975.8" y="931">20</text><text x="1033.2" y="931">24</text><text x="1090.6" y="931">26</text><text x="1147.9" y="931">30</text><text x="1205.3" y="931" font-weight="bold">4월</text><text x="1262.7" y="931">6</text><text x="1320" y="931">8</text><text x="1377.4" y="931">10</text><text x="1434.7" y="931">14</text><text x="1492.1" y="931">16</text><text x="1549.5" y="931">20</text><text x="1606.8" y="931">22</text><text x="1664.2" y="931">24</text><text x="1721.5" y="931">28</text><text x="1808.6" y="931" font-weight="bold">5월</text>
</g>
<circle cx="1887" cy="922.5" r="10" fill="#dedede"/>
<text x="1887" y="927" font-size="12" fill="#555" text-anchor="middle">A</text>
</svg>
</body></html>
